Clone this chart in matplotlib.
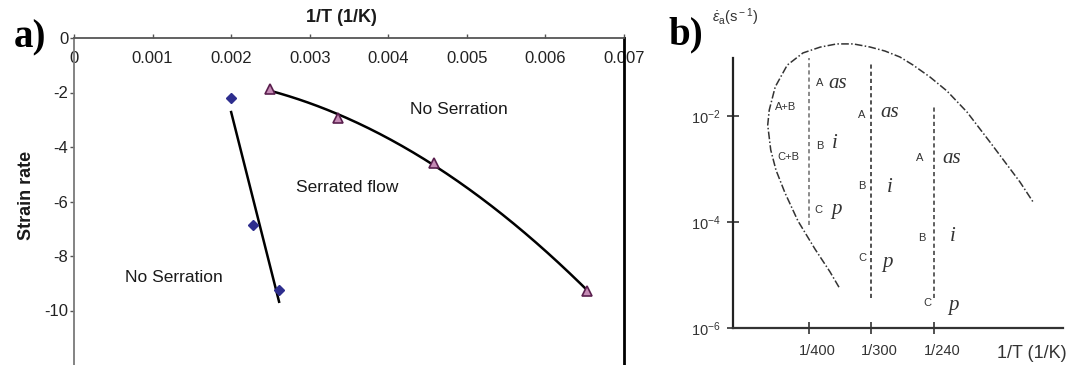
import numpy as np
import matplotlib
matplotlib.use("Agg")
import matplotlib.pyplot as plt
from matplotlib.transforms import ScaledTranslation

plt.rcParams['font.family'] = ['Liberation Sans', 'DejaVu Sans']
plt.rcParams['mathtext.fontset'] = 'custom'
plt.rcParams['mathtext.rm'] = 'Liberation Sans'
plt.rcParams['mathtext.it'] = 'Liberation Sans:italic'
plt.rcParams['mathtext.bf'] = 'Liberation Sans:bold'

# ---------------- panel a data ----------------
inv_T_ticks = [0, 0.001, 0.002, 0.003, 0.004, 0.005, 0.006, 0.007]
inv_T_ticklabels = ['0', '0.001', '0.002', '0.003', '0.004', '0.005', '0.006', '0.007']
rate_ticks = [0, -2, -4, -6, -8, -10]
rate_ticklabels = ['0', '-2', '-4', '-6', '-8', '-10']

lower_x = [0.00200, 0.00228, 0.00261]      # diamonds, lower boundary
lower_y = [-2.20, -6.87, -9.24]
upper_x = [0.00249, 0.00336, 0.00458, 0.00653]   # triangles, upper boundary
upper_y = [-1.87, -2.93, -4.58, -9.27]

# ---------------- panel b data ----------------
T_ticks = [1 / 400, 1 / 300, 1 / 240]
T_ticklabels = ['1/400', '1/300', '1/240']
rate_b_ticks = [1e-6, 1e-4, 1e-2]

# dash-dot envelope of the serration domain (1/T, log10 strain rate)
env_x = [0.00290, 0.00278, 0.00258, 0.002353, 0.00218, 0.00206, 0.00199, 0.00195,
         0.00197, 0.00205, 0.00221, 0.00242, 0.00265, 0.00287, 0.00309, 0.003313,
         0.003513, 0.003713, 0.003887, 0.004113, 0.00434, 0.004607, 0.004913,
         0.005113, 0.005313, 0.005487]
env_logy = [-5.23, -4.94, -4.51, -3.98, -3.45, -3.02, -2.64, -2.17,
            -1.89, -1.45, -1.04, -0.81, -0.70, -0.64, -0.64, -0.698,
            -0.774, -0.887, -1.038, -1.264, -1.528, -1.925, -2.491,
            -2.868, -3.245, -3.62]

# vertical dashed lines: (1/T, log10 top, log10 bottom)
vline_x = [1 / 400, 1 / 300, 1 / 240]
vline_top = [-0.91, -0.98, -1.83]
vline_bot = [-4.06, -5.43, -5.43]

# band labels (text, 1/T, log10 strain rate)
type_labels = [('A', 0.002647, -1.38), ('A+B', 0.002193, -1.83), ('B', 0.002647, -2.57),
               ('C+B', 0.002220, -2.77), ('C', 0.002620, -3.77),
               ('A', 0.003207, -1.98), ('B', 0.003207, -3.32), ('C', 0.003207, -4.68),
               ('A', 0.003980, -2.79), ('B', 0.004007, -4.30), ('C', 0.004073, -5.53)]
mode_labels = [('as', 0.002887, -1.38), ('i', 0.002847, -2.51), ('p', 0.002873, -3.77),
               ('as', 0.003580, -1.94), ('i', 0.003580, -3.34), ('p', 0.003553, -4.76),
               ('as', 0.004407, -2.81), ('i', 0.004420, -4.28), ('p', 0.004420, -5.57)]

W, H = 1078, 365
fig = plt.figure(figsize=(W / 100, H / 100), dpi=100)

# ================= panel a =================
axa = fig.add_axes([74 / W, 0, 550 / W, (H - 38) / H])
axa.set_xlim(0, 0.007)
axa.set_ylim(-12, 0)

# fitted boundaries
fit_lo = np.polyfit(lower_x, lower_y, 1)
xs_lo = np.linspace(lower_x[0], lower_x[-1], 50)
axa.plot(xs_lo, np.polyval(fit_lo, xs_lo), color='black', lw=1.8, zorder=2)
fit_up = np.polyfit(upper_x, upper_y, 2)
xs_up = np.linspace(upper_x[0], upper_x[-1], 200)
axa.plot(xs_up, np.polyval(fit_up, xs_up), color='black', lw=1.8, zorder=2)

axa.plot(lower_x, lower_y, 'D', ms=5.5, color='#2e2e8e', mec='#2e2e8e', zorder=3)
axa.plot(upper_x, upper_y, '^', ms=6.5, mfc='#c58bb5', mec='#5a1f4e', mew=1.2, zorder=3)

axa.spines['bottom'].set_visible(False)
axa.spines['left'].set_color('#7a7a7a')
axa.spines['left'].set_linewidth(1.3)
axa.spines['top'].set_color('#555555')
axa.spines['top'].set_linewidth(1.3)
axa.spines['right'].set_color('black')
axa.spines['right'].set_linewidth(2.0)

axa.set_xticks(inv_T_ticks)
axa.set_xticklabels(inv_T_ticklabels)
axa.tick_params(axis='x', bottom=False, top=True, labelbottom=False, labeltop=True,
                direction='out', length=3, width=1, color='#555555',
                pad=-23.5, labelsize=12, labelcolor='#222222')
axa.set_yticks(rate_ticks)
axa.set_yticklabels(rate_ticklabels)
axa.tick_params(axis='y', direction='out', length=3, width=1, color='#555555',
                pad=1, labelsize=12, labelcolor='#222222')

axa.text(0.00490, -2.64, 'No Serration', fontsize=12.5, ha='center', va='center', color='#1a1a1a')
axa.text(0.003473, -5.49, 'Serrated flow', fontsize=12.5, ha='center', va='center', color='#1a1a1a')
axa.text(0.001272, -8.79, 'No Serration', fontsize=12.5, ha='center', va='center', color='#1a1a1a')

fig.text(341 / W, 1 - 18 / H, '1/T (1/K)', fontsize=13, fontweight='bold',
         ha='center', va='center', color='#1a1a1a')
fig.text(27 / W, 1 - 195 / H, 'Strain rate', fontsize=13, fontweight='bold',
         rotation=90, ha='center', va='center', color='#1a1a1a')
fig.text(30 / W, 1 - 38 / H, 'a)', fontsize=28, fontweight='bold',
         family='Liberation Serif', ha='center', va='center')

# ================= panel b =================
bx0, bx1 = 0.001487, 0.005887
by0, by1 = -6.0, -6.0 + 298 / 53
axb = fig.add_axes([733 / W, (H - 328) / H, 330 / W, 298 / H])
axb.set_xlim(bx0, bx1)
axb.set_yscale('log')
axb.set_ylim(10 ** by0, 10 ** by1)
axb.patch.set_alpha(0)

axb.plot(env_x, 10 ** np.array(env_logy), color='#333333', lw=1.1,
         linestyle=(0, (5, 1.5, 1, 1.5)), clip_on=False)

for x, t, b, c in zip(vline_x, vline_top, vline_bot, ['#777777', '#333333', '#444444']):
    axb.plot([x, x], [10 ** b, 10 ** t], color=c, lw=1.2, linestyle=(0, (2.5, 1.8)))

for s, x, ly in type_labels:
    axb.text(x, 10 ** ly, s, fontsize=8, ha='center', va='center', color='#333333')
for s, x, ly in mode_labels:
    axb.text(x, 10 ** ly, s, fontsize=15, ha='center', va='center', color='#333333',
             family='Liberation Serif', style='italic')

axb.spines['top'].set_visible(False)
axb.spines['right'].set_visible(False)
axb.spines['left'].set_bounds(10 ** by0, 10 ** -0.906)
axb.spines['left'].set_linewidth(1.6)
axb.spines['left'].set_color('#222222')
axb.spines['bottom'].set_linewidth(1.6)
axb.spines['bottom'].set_color('#333333')

axb.set_xticks(T_ticks)
axb.set_xticklabels(T_ticklabels)
axb.tick_params(axis='x', direction='inout', length=9, width=1.2, color='#333333',
                pad=7, labelsize=10.5, labelcolor='#333333')
shift = ScaledTranslation(8 / 100, 0, fig.dpi_scale_trans)
for lab in axb.get_xticklabels():
    lab.set_transform(lab.get_transform() + shift)
axb.set_yticks(rate_b_ticks)
axb.yaxis.set_minor_locator(matplotlib.ticker.NullLocator())
axb.tick_params(axis='y', direction='inout', length=8, width=1.2, color='#333333',
                pad=5, labelsize=10.5, labelcolor='#333333')

fig.text(1032 / W, 1 - 353 / H, '1/T (1/K)', fontsize=13, ha='center', va='center', color='#333333')
fig.text(735 / W, 1 - 17 / H, r'$\dot{\varepsilon}_{\rm a}$(s$^{\rm -1}$)', fontsize=10.5,
         ha='center', va='center', color='#333333')
fig.text(686 / W, 1 - 35 / H, 'b)', fontsize=28, fontweight='bold',
         family='Liberation Serif', ha='center', va='center')

fig.savefig('out.png', dpi=100)
